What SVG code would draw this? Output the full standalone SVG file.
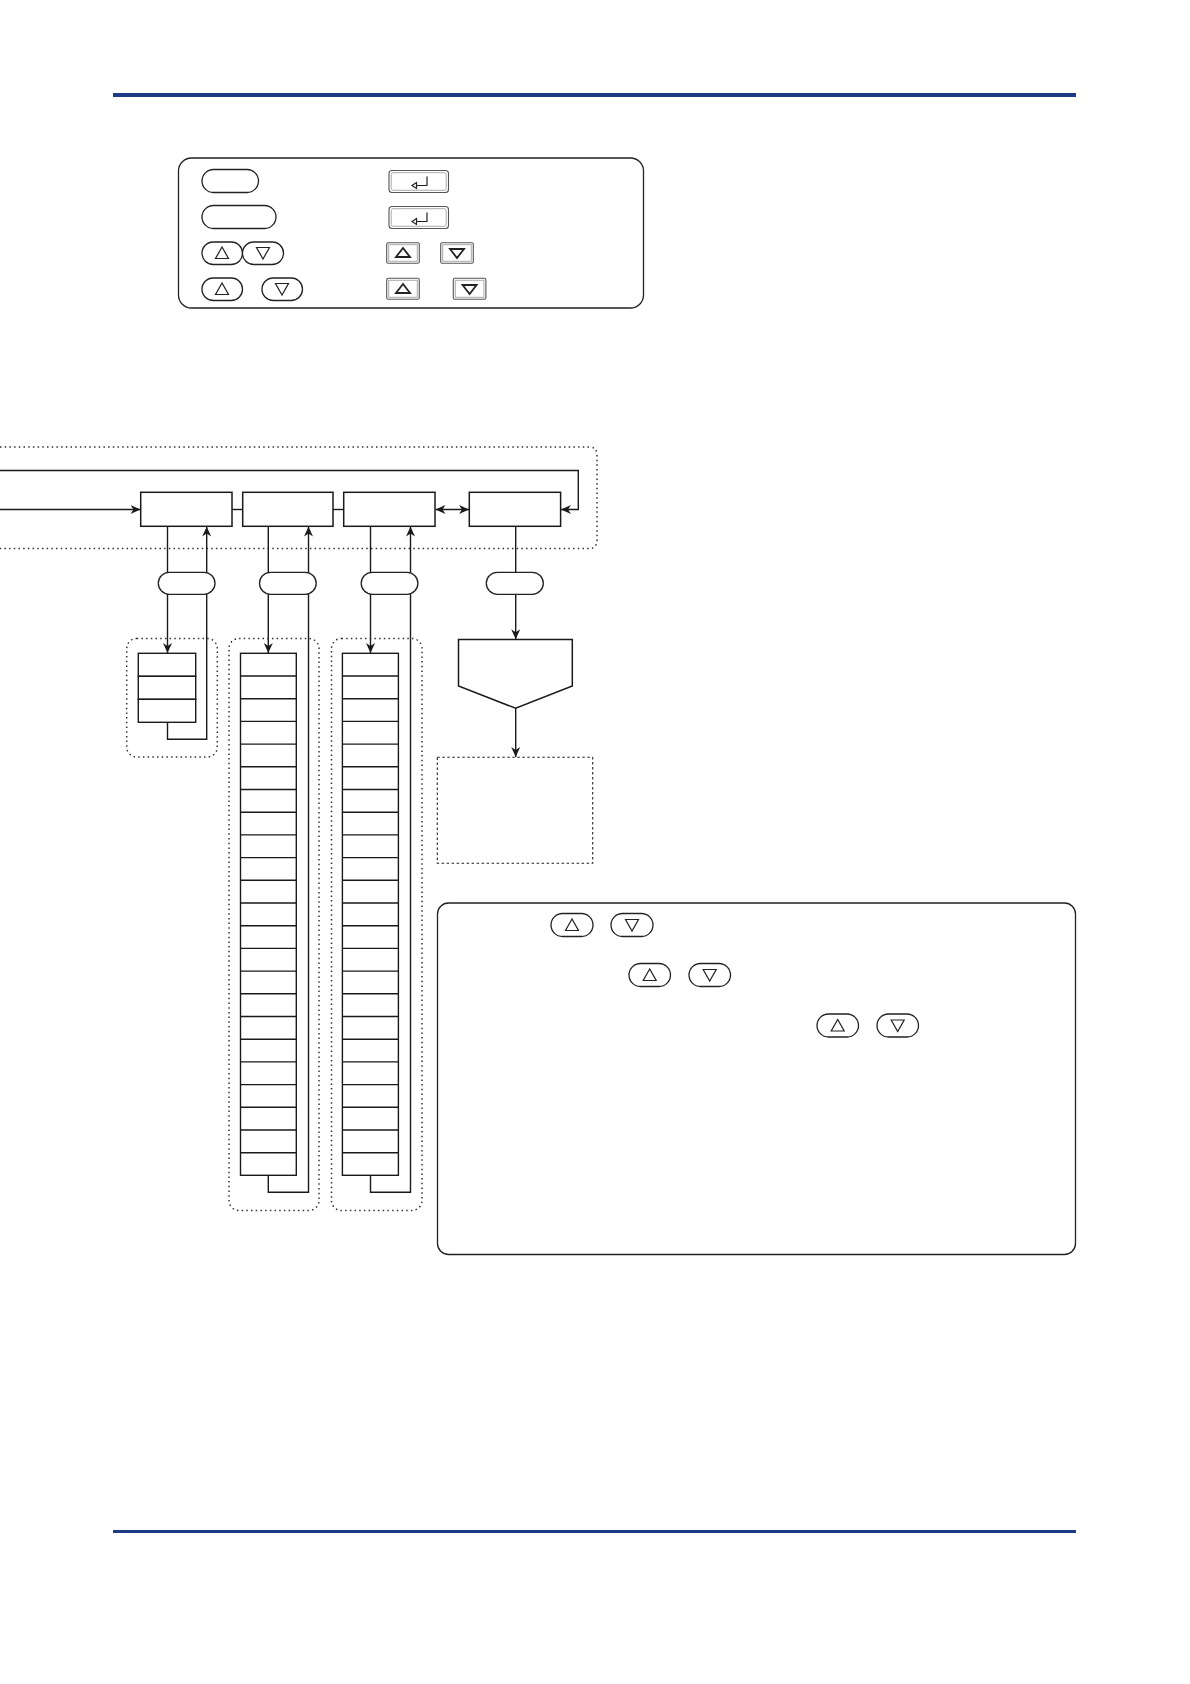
<svg xmlns="http://www.w3.org/2000/svg" width="1190" height="1684" viewBox="0 0 1190 1684">
<style>
.rule{stroke:#1d3a87;fill:none}
.frame{fill:#fff;stroke:#222;stroke-width:1.3}
.box{fill:#fff;stroke:#1a1a1a;stroke-width:1.5}
.pill{fill:#fff;stroke:#222;stroke-width:1.3}
.tri{fill:none;stroke:#222;stroke-width:1.2}
.ktri{fill:none;stroke:#222;stroke-width:1.8}
.kout{fill:#fff;stroke:#555;stroke-width:1.1}
.kin{fill:none;stroke:#aaa;stroke-width:1}
.dot{fill:none;stroke:#333;stroke-width:1.5;stroke-dasharray:1.5 3.2}
.dash{fill:none;stroke:#222;stroke-width:1.1;stroke-dasharray:2.5 2.5}
.row{fill:#fff;stroke:#1a1a1a;stroke-width:1.4}
.ln{fill:none;stroke:#1a1a1a;stroke-width:1.4}
.arr{marker-end:url(#ah)}
</style>
<defs>
<marker id="ah" viewBox="0 0 10 10" refX="10" refY="5" markerWidth="10" markerHeight="10" markerUnits="userSpaceOnUse" orient="auto-start-reverse">
<path d="M0,0.5 L10,5 L0,9.5 L3,5 z" fill="#1a1a1a"/>
</marker>
</defs>
<rect width="1190" height="1684" fill="#fff"/>

<!-- page rules -->
<line class="rule" x1="113" y1="95" x2="1076" y2="95" stroke-width="4"/>
<line class="rule" x1="113" y1="1531.5" x2="1076" y2="1531.5" stroke-width="3"/>

<!-- legend -->
<g id="legend">
<rect class="frame" x="178.5" y="158" width="465" height="150" rx="13"/>
<g id="legend-key-a"><rect class="pill" x="202" y="169.5" width="56.5" height="23" rx="11.5"/></g>
<g id="legend-key-b"><rect class="pill" x="202" y="205.5" width="74" height="23" rx="11.5"/></g>
<g id="legend-key-c">
<rect class="pill" x="202" y="242" width="40.5" height="22.5" rx="11.25"/>
<rect class="pill" x="242.5" y="242" width="41" height="22.5" rx="11.25"/>
<polygon class="tri" points="222,247 215.5,258.5 228.5,258.5"/>
<polygon class="tri" points="256.5,247.5 269.5,247.5 263,259"/>
</g>
<g id="legend-key-d">
<rect class="pill" x="202" y="278" width="40.5" height="22.5" rx="11.25"/>
<rect class="pill" x="262" y="278" width="40.5" height="22.5" rx="11.25"/>
<polygon class="tri" points="222,283 215.5,294.5 228.5,294.5"/>
<polygon class="tri" points="275.5,283.5 288.5,283.5 282,295"/>
</g>
<g id="legend-enter-1">
<rect class="kout" x="389" y="170.5" width="59.5" height="22" rx="3"/>
<rect class="kin" x="391.2" y="172.7" width="55" height="17.6" rx="2"/>
<path class="tri" d="M427,176.5 V185.5 H416.5 M416.5,182.5 L412,185.5 L416.5,188.5 Z" stroke-width="1"/>
</g>
<g id="legend-enter-2">
<rect class="kout" x="389" y="206.5" width="59.5" height="22" rx="3"/>
<rect class="kin" x="391.2" y="208.7" width="55" height="17.6" rx="2"/>
<path class="tri" d="M427,212.5 V221.5 H416.5 M416.5,218.5 L412,221.5 L416.5,224.5 Z" stroke-width="1"/>
</g>
<g id="legend-up-1">
<rect class="kout" x="386.7" y="242.7" width="32.6" height="20.6" rx="1.5"/>
<rect class="kin" x="388.7" y="244.7" width="28.6" height="16.6"/>
<polygon class="ktri" points="403,248 396,257 410,257"/>
</g>
<g id="legend-down-1">
<rect class="kout" x="440.7" y="242.7" width="32.6" height="20.6" rx="1.5"/>
<rect class="kin" x="442.7" y="244.7" width="28.6" height="16.6"/>
<polygon class="ktri" points="450,249 464,249 457,258"/>
</g>
<g id="legend-up-2">
<rect class="kout" x="386.7" y="278.3" width="32.6" height="21" rx="1.5"/>
<rect class="kin" x="388.7" y="280.3" width="28.6" height="17"/>
<polygon class="ktri" points="403,284 396,293 410,293"/>
</g>
<g id="legend-down-2">
<rect class="kout" x="453.3" y="278.3" width="32.6" height="21" rx="1.5"/>
<rect class="kin" x="455.3" y="280.3" width="28.6" height="17"/>
<polygon class="ktri" points="462.6,285 476.6,285 469.6,294"/>
</g>
</g>

<!-- dotted group around main loop -->
<g id="main-loop-frame">
<path class="dot" d="M0,447 H589 Q597,447 597,455 V540 Q597,548.5 589,548.5 H0"/>
</g>

<!-- connectors -->
<g id="connectors">
<line class="ln arr" x1="0" y1="509.5" x2="140.5" y2="509.5"/>
<line class="ln" x1="232" y1="509.5" x2="242.7" y2="509.5"/>
<line class="ln" x1="333" y1="509.5" x2="343.7" y2="509.5"/>
<line class="ln arr" x1="435.5" y1="509.5" x2="469" y2="509.5" style="marker-start:url(#ah)"/>
<polyline class="ln arr" points="0,470.5 578.3,470.5 578.3,509.5 561,509.5"/>
<!-- column 1 -->
<line class="ln arr" x1="167.5" y1="526.3" x2="167.5" y2="653"/>
<polyline class="ln arr" points="167.5,722.3 167.5,739.3 206.7,739.3 206.7,526.6"/>
<!-- column 2 -->
<line class="ln arr" x1="268.3" y1="526.3" x2="268.3" y2="653"/>
<polyline class="ln arr" points="268.3,1175.3 268.3,1192.3 308.5,1192.3 308.5,526.6"/>
<!-- column 3 -->
<line class="ln arr" x1="370.5" y1="526.3" x2="370.5" y2="653"/>
<polyline class="ln arr" points="370.5,1175.3 370.5,1192.3 410.5,1192.3 410.5,526.6"/>
<!-- column 4 -->
<line class="ln arr" x1="515.7" y1="526.3" x2="515.7" y2="639.3"/>
<line class="ln arr" x1="515.7" y1="708.3" x2="515.7" y2="757"/>
</g>

<!-- top boxes -->
<g id="box-1"><rect class="box" x="140.7" y="492.3" width="91.3" height="34"/></g>
<g id="box-2"><rect class="box" x="242.7" y="492.3" width="90.3" height="34"/></g>
<g id="box-3"><rect class="box" x="343.7" y="492.3" width="91.3" height="34"/></g>
<g id="box-4"><rect class="box" x="469.3" y="492.3" width="91.3" height="34"/></g>

<!-- pills on the verticals -->
<g id="pill-1"><rect class="pill" x="158.3" y="572.3" width="56.7" height="22" rx="11"/></g>
<g id="pill-2"><rect class="pill" x="259.5" y="572.3" width="56.7" height="22" rx="11"/></g>
<g id="pill-3"><rect class="pill" x="361.2" y="572.3" width="56.7" height="22" rx="11"/></g>
<g id="pill-4"><rect class="pill" x="486.3" y="572.3" width="57" height="22" rx="11"/></g>

<!-- list 1 -->
<g id="list-1">
<rect class="dot" x="126.7" y="638.5" width="90.6" height="118.5" rx="10"/>
<rect class="row" x="138.3" y="653.3" width="57.4" height="23"/>
<rect class="row" x="138.3" y="676.3" width="57.4" height="23"/>
<rect class="row" x="138.3" y="699.3" width="57.4" height="23"/>
</g>

<!-- list 2 -->
<g id="list-2">
<rect class="dot" x="229" y="638.5" width="90" height="572" rx="10"/>
<rect class="row" x="240.5" y="653.3" width="55.8" height="522"/>
<path class="ln" d="M240.5,676h55.8M240.5,698.7h55.8M240.5,721.4h55.8M240.5,744.1h55.8M240.5,766.8h55.8M240.5,789.5h55.8M240.5,812.2h55.8M240.5,834.9h55.8M240.5,857.6h55.8M240.5,880.3h55.8M240.5,903h55.8M240.5,925.7h55.8M240.5,948.4h55.8M240.5,971.1h55.8M240.5,993.8h55.8M240.5,1016.5h55.8M240.5,1039.2h55.8M240.5,1061.9h55.8M240.5,1084.6h55.8M240.5,1107.3h55.8M240.5,1130h55.8M240.5,1152.7h55.8"/>
</g>

<!-- list 3 -->
<g id="list-3">
<rect class="dot" x="331.5" y="638.5" width="90.5" height="572" rx="10"/>
<rect class="row" x="342.4" y="653.3" width="56" height="522"/>
<path class="ln" d="M342.4,676h56M342.4,698.7h56M342.4,721.4h56M342.4,744.1h56M342.4,766.8h56M342.4,789.5h56M342.4,812.2h56M342.4,834.9h56M342.4,857.6h56M342.4,880.3h56M342.4,903h56M342.4,925.7h56M342.4,948.4h56M342.4,971.1h56M342.4,993.8h56M342.4,1016.5h56M342.4,1039.2h56M342.4,1061.9h56M342.4,1084.6h56M342.4,1107.3h56M342.4,1130h56M342.4,1152.7h56"/>
</g>

<!-- pentagon -->
<g id="decision">
<polygon class="box" points="458.5,639.5 572.3,639.5 572.3,686 515.7,708.3 458.5,686" stroke-width="1.3"/>
</g>

<!-- dashed result box -->
<g id="result">
<rect class="dash" x="437.3" y="757.3" width="155.4" height="106"/>
</g>

<!-- info box -->
<g id="info">
<rect class="frame" x="437.5" y="903" width="638" height="351.5" rx="11"/>
<g id="info-keys-1">
<rect class="pill" x="551" y="913.5" width="42" height="23" rx="11.5"/>
<polygon class="tri" points="572,919 565.5,930.5 578.5,930.5"/>
<rect class="pill" x="611" y="913.5" width="42" height="23" rx="11.5"/>
<polygon class="tri" points="625.5,919.5 638.5,919.5 632,931"/>
</g>
<g id="info-keys-2">
<rect class="pill" x="629" y="963.5" width="41.5" height="23" rx="11.5"/>
<polygon class="tri" points="649.7,969 643.2,980.5 656.2,980.5"/>
<rect class="pill" x="689" y="963.5" width="41.5" height="23" rx="11.5"/>
<polygon class="tri" points="703.2,969.5 716.2,969.5 709.7,981"/>
</g>
<g id="info-keys-3">
<rect class="pill" x="817" y="1014" width="41.5" height="23" rx="11.5"/>
<polygon class="tri" points="837.7,1019.5 831.2,1031 844.2,1031"/>
<rect class="pill" x="877" y="1014" width="41.5" height="23" rx="11.5"/>
<polygon class="tri" points="891.2,1020 904.2,1020 897.7,1031.5"/>
</g>
</g>
</svg>
